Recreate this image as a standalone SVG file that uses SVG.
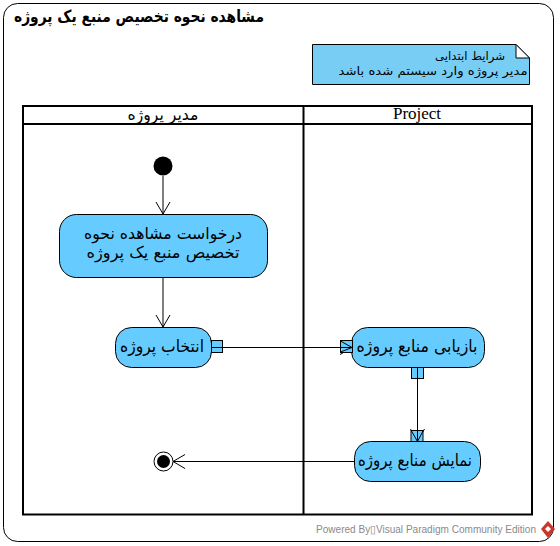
<svg xmlns="http://www.w3.org/2000/svg" width="560" height="546" viewBox="0 0 560 546">
<style>
.t{font-family:"DejaVu Sans",sans-serif;text-anchor:middle;fill:#000}
.a{font-size:17px}
.n{fill:#66ccff;stroke:#000;stroke-width:1}
.p{fill:#66ccff;stroke:#000;stroke-width:1}
.l{fill:none;stroke:#000;stroke-width:1}
.s{fill:none;stroke:#000;stroke-width:2}
</style>
<defs>
<marker id="arr" markerUnits="userSpaceOnUse" markerWidth="14" markerHeight="18" refX="13" refY="9" orient="auto"><path d="M1 2L13 9L1 16" fill="none" stroke="#000"/></marker>
</defs>
<rect width="560" height="546" fill="#fff"/>
<g id="frame">
<rect x="3.500" y="3.500" width="550" height="538" rx="14" class="l"/>
<text x="139" y="22" class="t" style="font-size:16.500px;font-weight:bold" textLength="250" lengthAdjust="spacingAndGlyphs">مشاهده نحوه تخصیص منبع یک پروژه</text>
</g>
<g id="note">
<path d="M312.500 44.500H516L529.500 58V84.500H312.500Z" fill="#78cdf4" stroke="#000"/>
<path d="M516 44.500V58H529.500Z" fill="#fff" stroke="#000"/>
<text x="470" y="60" class="t" style="font-size:11.500px" textLength="70" lengthAdjust="spacingAndGlyphs">شرایط ابتدایی</text>
<text x="433" y="75" class="t" style="font-size:11.500px" textLength="189" lengthAdjust="spacingAndGlyphs">مدیر پروژه وارد سیستم شده باشد</text>
</g>
<g id="swimlane">
<rect x="23" y="106" width="509" height="408.500" class="s"/>
<path d="M23 124H532M303.500 106V514.500" class="s"/>
<text x="163" y="120" class="t" style="font-size:16px" textLength="71" lengthAdjust="spacingAndGlyphs">مدیر پروژه</text>
<text x="417" y="119" class="t" style="font-size:17px;font-family:'Liberation Serif',serif">Project</text>
</g>
<g id="connectors">
<path d="M163 176V214" class="l" marker-end="url(#arr)"/>
<path d="M163 277V327" class="l" marker-end="url(#arr)"/>
<path d="M223 347.500H352" class="l" marker-end="url(#arr)"/>
<path d="M417.500 379V441" class="l" marker-end="url(#arr)"/>
<path d="M354 461.500H173" class="l" marker-end="url(#arr)"/>
</g>
<g id="start"><circle cx="163" cy="166" r="9.500" fill="#000"/></g>
<g id="request">
<rect x="59.500" y="214.500" width="208" height="63" rx="17" class="n"/>
<text x="163" y="239" class="t" style="font-size:16px" textLength="158" lengthAdjust="spacingAndGlyphs">درخواست مشاهده نحوه</text>
<text x="163" y="258" class="t" style="font-size:16px" textLength="153" lengthAdjust="spacingAndGlyphs">تخصیص منبع یک پروژه</text>
</g>
<g id="select">
<rect x="115.500" y="327.500" width="96" height="40" rx="16" class="n"/>
<text x="162" y="352" class="t a" textLength="84" lengthAdjust="spacingAndGlyphs">انتخاب پروژه</text>
<rect x="211.500" y="340.500" width="11" height="12" class="p"/>
<path d="M211.500 347.500H222.500" class="l"/>
</g>
<g id="review">
<rect x="351.500" y="327.500" width="133" height="40" rx="16" class="n"/>
<text x="417" y="352" class="t a" textLength="121" lengthAdjust="spacingAndGlyphs">بازیابی منابع پروژه</text>
<rect x="340.500" y="340.500" width="12" height="12" class="p"/>
<path d="M340.500 347.500H352M340.500 341L352 347.500L340.500 352" class="l"/>
<rect x="411.500" y="367.500" width="12" height="11" class="p"/>
<path d="M417.500 367.500V378.500" class="l"/>
</g>
<g id="show">
<rect x="354.500" y="441.500" width="126" height="40" rx="16" class="n"/>
<text x="415" y="466" class="t a" textLength="114" lengthAdjust="spacingAndGlyphs">نمایش منابع پروژه</text>
<rect x="411" y="430.500" width="12" height="11" class="p"/>
<path d="M417.500 430.500V441.500M411.500 431L417.500 441.500L423 431" class="l"/>
</g>
<g id="end">
<circle cx="163.500" cy="461.500" r="9.500" fill="#fff" stroke="#000"/>
<circle cx="163.500" cy="461.500" r="6.500" fill="#000"/>
</g>
<g id="footer">
<text x="426" y="533" style="font-family:'Liberation Sans',sans-serif;font-size:10.500px;fill:#8a8a8a" text-anchor="middle" textLength="220" lengthAdjust="spacingAndGlyphs">Powered By&#x25AF;Visual Paradigm Community Edition</text>
<path d="M548 521L555 529L548 538L541 529Z" fill="#c8372d"/>
<path d="M548 526L551 529L548 532L545 529Z" fill="#fff"/>
</g>
</svg>
